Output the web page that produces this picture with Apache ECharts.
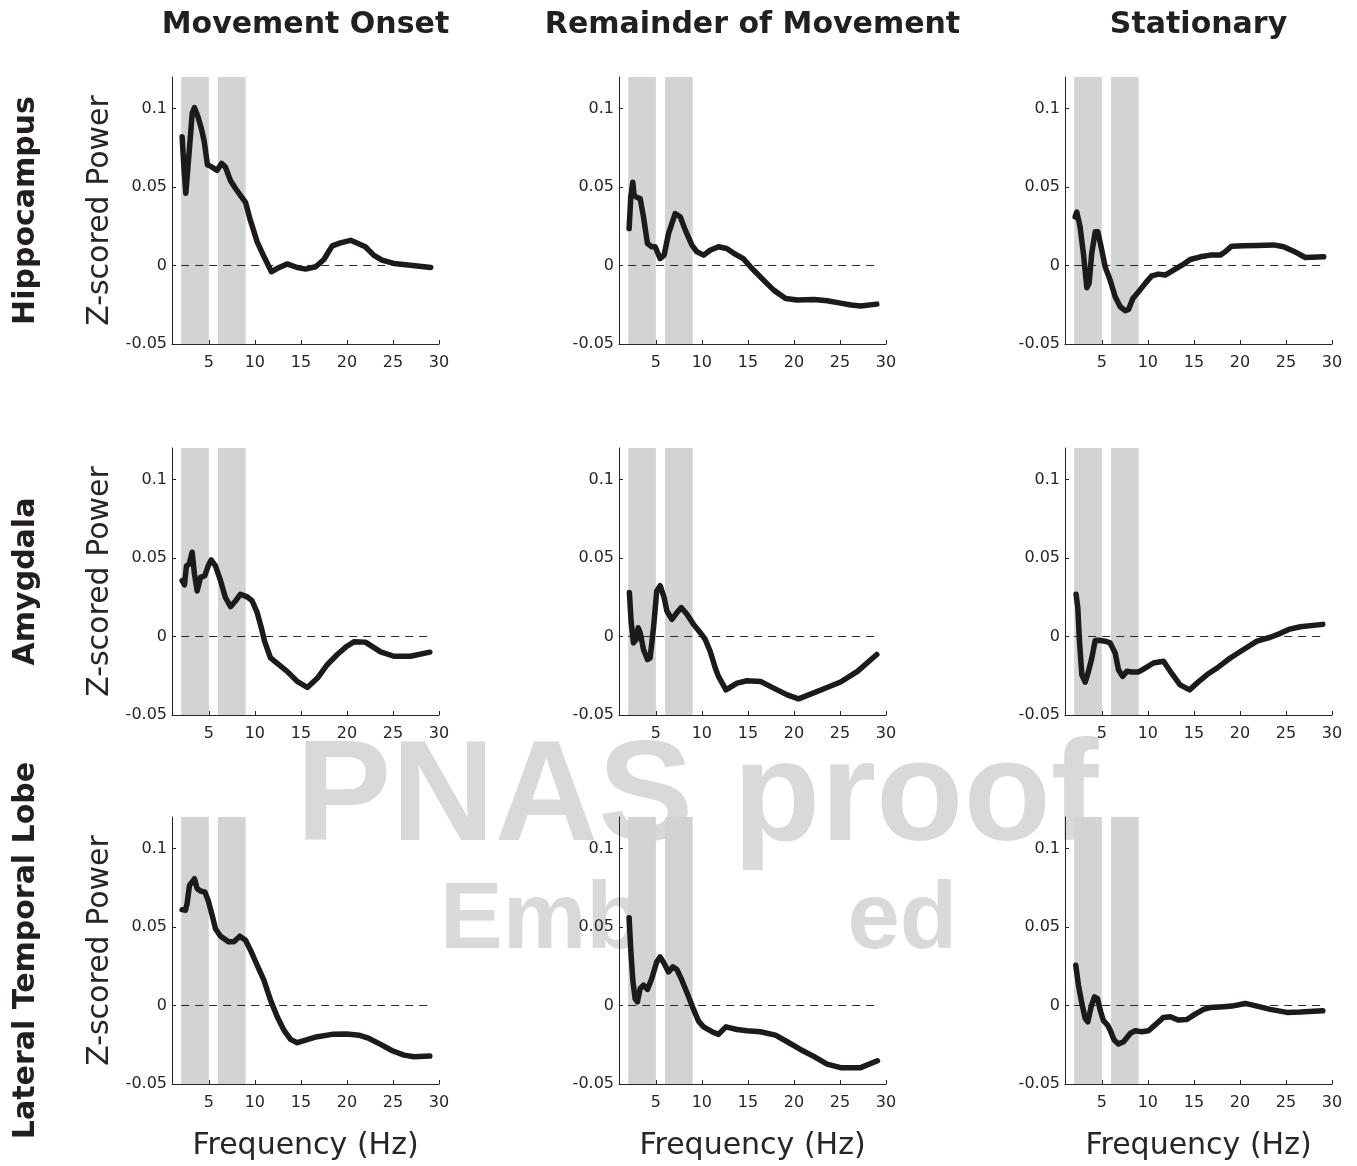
<!DOCTYPE html>
<html><head><meta charset="utf-8">
<script src="https://cdn.jsdelivr.net/npm/echarts@6/dist/echarts.min.js"></script>
<style>html,body{margin:0;padding:0;background:#fff}#c{width:1357px;height:1166px}</style>
</head><body><div id="c"></div>
<script>
const colTitles = ['Movement Onset', 'Remainder of Movement', 'Stationary'];
const rowTitles = ['Hippocampus', 'Amygdala', 'Lateral Temporal Lobe'];
const yLabel = 'Z-scored Power';
const xLabel = 'Frequency (Hz)';
const yTicks = [-0.05, 0, 0.05, 0.1];
const xTicks = [5, 10, 15, 20, 25, 30];
const bands = [[2, 5], [6, 9]];
const zeroLine = [[2, 0], [29, 0]];

const hipOnsetHz = [2.1,2.3,2.5,2.65,2.9,3.2,3.44,3.8,4.2,4.5,4.85,5.1,5.9,6.38,6.8,7.36,7.9,9.0,9.5,10.25,11,11.8,12.4,13.5,14.6,15.5,16.6,17.5,18.4,19.3,20.4,22,22.9,23.8,25.1,26.9,29.1];
const hipOnsetZ  = [0.082,0.062,0.046,0.047,0.075,0.097,0.1005,0.095,0.087,0.079,0.064,0.0635,0.0606,0.065,0.0627,0.054,0.049,0.040,0.029,0.015,0.0055,-0.004,-0.002,0.001,-0.0013,-0.0023,-0.0008,0.0038,0.0125,0.0144,0.016,0.0119,0.0066,0.0034,0.0013,0.0002,-0.0013];

const hipRemHz = [2.1,2.28,2.5,2.64,2.86,3.3,3.66,4.09,4.56,4.93,5.47,5.9,6.38,7.1,7.65,8.2,8.92,9.46,10.2,10.9,11.8,12.7,13.5,14.5,15.45,16.7,17.8,19.1,20.35,22.2,23.6,25.07,26.2,27.25,29];
const hipRemZ  = [0.0235,0.0436,0.053,0.0447,0.0436,0.0426,0.031,0.014,0.0119,0.0119,0.0044,0.0066,0.0203,0.033,0.031,0.0225,0.0129,0.0087,0.0066,0.0097,0.0119,0.0108,0.0076,0.0044,-0.0019,-0.0093,-0.0157,-0.021,-0.022,-0.0216,-0.0225,-0.024,-0.0252,-0.0258,-0.0246];

const hipStaHz = [2.1,2.28,2.64,3.0,3.37,3.62,3.9,4.28,4.57,5.0,5.36,5.9,6.45,7.0,7.54,7.9,8.37,8.99,9.71,10.43,11.16,11.88,12.79,13.7,14.6,15.7,16.78,17.86,18.4,19.1,20.4,21.85,23.66,24.75,25.83,27.1,29.1];
const hipStaZ  = [0.0309,0.034,0.0246,0.0076,-0.0142,-0.0114,0.0076,0.0214,0.0214,0.0097,-0.0008,-0.0093,-0.0199,-0.0263,-0.0288,-0.028,-0.021,-0.0167,-0.0114,-0.0066,-0.0055,-0.0061,-0.003,0.0002,0.0038,0.0055,0.0066,0.0066,0.0087,0.0123,0.0125,0.0127,0.0131,0.0119,0.0091,0.0051,0.0055];

const amyOnsetHz = [2.1,2.36,2.57,2.86,3.19,3.44,3.73,4.1,4.57,4.93,5.25,5.72,6.27,6.8,7.36,7.9,8.44,9.17,9.71,10.25,10.7,11.05,11.7,12.6,13.5,14.6,15.7,16.8,17.86,18.95,20.0,20.76,22.0,23.66,25.1,26.9,29.0];
const amyOnsetZ  = [0.0355,0.0329,0.045,0.046,0.0536,0.0397,0.029,0.0376,0.0387,0.045,0.0487,0.045,0.0355,0.0248,0.019,0.0226,0.0269,0.0252,0.0226,0.0152,0.0056,-0.003,-0.0137,-0.018,-0.0222,-0.0286,-0.0325,-0.0265,-0.018,-0.0115,-0.0062,-0.0034,-0.0036,-0.0098,-0.0126,-0.0126,-0.01];

const amyRemHz = [2.13,2.31,2.57,2.86,3.08,3.3,3.66,4.09,4.38,4.75,5.1,5.47,5.9,6.2,6.74,7.29,7.76,8.38,9.1,9.83,10.37,10.9,11.46,11.8,12.62,13.82,14.9,16.36,17.8,19.27,20.5,21.6,23.26,25.07,26.9,29.0];
const amyRemZ  = [0.028,0.0098,-0.0041,-0.0019,0.0056,0.0024,-0.0083,-0.0147,-0.0137,0.0056,0.029,0.0323,0.0248,0.0162,0.0109,0.0152,0.0184,0.0141,0.0077,0.0024,-0.0019,-0.0094,-0.0201,-0.0254,-0.034,-0.0297,-0.0282,-0.0286,-0.0329,-0.0372,-0.0397,-0.0372,-0.0333,-0.029,-0.0222,-0.0115];

const amyStaHz = [2.2,2.39,2.57,2.83,3.19,3.55,3.91,4.28,4.64,5.36,5.9,6.45,6.81,7.25,7.72,8.26,8.99,9.71,10.6,11.7,12.43,13.5,14.53,15.33,16.41,17.68,18.95,20.4,21.85,23.3,24.4,25.3,26.56,29.0];
const amyStaZ  = [0.0269,0.0184,-0.003,-0.0244,-0.0291,-0.0222,-0.0137,-0.0026,-0.0024,-0.003,-0.0041,-0.0105,-0.0212,-0.0254,-0.0222,-0.0226,-0.0226,-0.0201,-0.0169,-0.0158,-0.0222,-0.0308,-0.034,-0.0297,-0.0244,-0.0194,-0.0137,-0.0083,-0.003,-0.0005,0.002,0.0045,0.0062,0.0077];

const ltlOnsetHz = [2.1,2.46,2.64,2.9,3.19,3.44,3.73,4.1,4.57,4.93,5.36,5.72,6.27,7.17,7.72,8.37,8.99,9.53,10.25,10.98,11.7,12.43,13.15,13.88,14.6,15.5,16.78,18.4,20.0,21.3,22.4,23.66,24.93,26.2,27.28,29.0];
const ltlOnsetZ  = [0.061,0.0606,0.0648,0.0765,0.0786,0.0807,0.0744,0.0729,0.0722,0.0669,0.0574,0.0489,0.0441,0.0405,0.0405,0.0441,0.0415,0.0352,0.0256,0.0161,0.0034,-0.0072,-0.0157,-0.0216,-0.0237,-0.022,-0.0199,-0.0184,-0.0182,-0.0189,-0.021,-0.0248,-0.0288,-0.0316,-0.0326,-0.0322];

const ltlRemHz = [2.1,2.28,2.5,2.75,3.0,3.3,3.66,4.09,4.56,5.1,5.47,5.9,6.38,6.85,7.29,7.83,8.56,9.1,9.64,10.18,11.1,11.8,12.62,13.82,14.9,16.36,17.99,19.27,20.7,22.2,23.6,25.07,26.2,27.25,29.07];
const ltlRemZ  = [0.0559,0.0352,0.0161,0.0044,0.0023,0.0108,0.0129,0.0102,0.0172,0.0278,0.0309,0.0267,0.0214,0.0246,0.0229,0.0161,0.0055,-0.0025,-0.01,-0.0136,-0.0167,-0.0184,-0.0136,-0.0153,-0.0161,-0.0167,-0.0189,-0.0231,-0.028,-0.0326,-0.0373,-0.0396,-0.0396,-0.0396,-0.0352];

const ltlStaHz = [2.17,2.46,2.83,3.19,3.48,3.84,4.2,4.53,4.82,5.18,5.62,5.9,6.34,6.81,7.36,8.08,8.62,9.35,10.07,10.98,11.7,12.43,13.33,14.24,15.14,16.05,16.78,18.22,19.13,20.58,21.85,23.3,25.1,26.56,29.0];
const ltlStaZ  = [0.0256,0.0129,0.0013,-0.0083,-0.0104,-0.0008,0.0055,0.0044,-0.003,-0.0097,-0.0125,-0.0157,-0.022,-0.0246,-0.0231,-0.0178,-0.0161,-0.0167,-0.0161,-0.0114,-0.0076,-0.0072,-0.0093,-0.0089,-0.0055,-0.0025,-0.0013,-0.0008,-0.0004,0.0013,-0.0004,-0.0025,-0.0044,-0.0042,-0.0034];

const panels = [
  [hipOnsetHz, hipOnsetZ], [hipRemHz, hipRemZ], [hipStaHz, hipStaZ],
  [amyOnsetHz, amyOnsetZ], [amyRemHz, amyRemZ], [amyStaHz, amyStaZ],
  [ltlOnsetHz, ltlOnsetZ], [ltlRemHz, ltlRemZ], [ltlStaHz, ltlStaZ]
];

const colLeft = [172, 619, 1065];
const rowTop = [77, 448, 817];
const W = 267, H = 267;
const AX = '#262626';
const FONT = 'DejaVu Sans';

const grids = [], xAxes = [], yAxes = [], series = [];
panels.forEach((p, i) => {
  const r = Math.floor(i / 3), c = i % 3;
  grids.push({left: colLeft[c], top: rowTop[r], width: W, height: H, containLabel: false});
  xAxes.push({
    gridIndex: i, type: 'value', min: 1, max: 30, z: 5,
    axisLine: {show: true, onZero: false, lineStyle: {color: AX, width: 1}},
    axisTick: {show: true, inside: true, length: 4, customValues: xTicks, lineStyle: {color: AX}},
    axisLabel: {customValues: xTicks, fontSize: 16, fontFamily: FONT, color: AX, margin: 11},
    splitLine: {show: false}
  });
  yAxes.push({
    gridIndex: i, type: 'value', min: -0.05, max: 0.12, z: 5,
    axisLine: {show: true, onZero: false, lineStyle: {color: AX, width: 1}},
    axisTick: {show: true, inside: true, length: 4, customValues: yTicks, lineStyle: {color: AX}},
    axisLabel: {customValues: yTicks, fontSize: 16, fontFamily: FONT, color: AX, margin: 5},
    splitLine: {show: false}
  });
  series.push({
    type: 'line', xAxisIndex: i, yAxisIndex: i, data: [], z: 2, silent: true,
    markArea: {silent: true, itemStyle: {color: '#d1d3d4'},
      data: bands.map(b => [{xAxis: b[0]}, {xAxis: b[1]}])}
  });
  series.push({
    type: 'line', xAxisIndex: i, yAxisIndex: i, data: zeroLine, z: 3, silent: true,
    symbol: 'none', lineStyle: {color: AX, width: 1, type: [8, 6]}
  });
  series.push({
    type: 'line', xAxisIndex: i, yAxisIndex: i, z: 4, silent: true,
    data: p[0].map((x, k) => [x, p[1][k]]),
    symbol: 'none', lineStyle: {color: '#1c1a1b', width: 5.5, join: 'round', cap: 'round'}
  });
});

const graphic = [];
// watermark
graphic.push({type: 'text', z: 0, silent: true, x: 296, y: 872,
  style: {text: 'PNAS proof', fill: '#d8d9da', font: 'bold 143px "Liberation Sans"', textAlign: 'left', textVerticalAlign: 'bottom'}});
graphic.push({type: 'text', z: 0, silent: true, x: 440, y: 969,
  style: {text: 'Embargoed', fill: '#d8d9da', font: 'bold 94px "Liberation Sans"', textAlign: 'left', textVerticalAlign: 'bottom'}});
graphic.push({type: 'rect', z: 1, silent: true, shape: {x: 645, y: 872, width: 203, height: 120}, style: {fill: '#ffffff'}});

colTitles.forEach((t, c) => graphic.push({type: 'text', z: 10, x: colLeft[c] + W / 2, y: 25,
  style: {text: t, fill: '#231f20', font: 'bold 30px "DejaVu Sans"', textAlign: 'center', textVerticalAlign: 'middle'}}));
rowTitles.forEach((t, r) => graphic.push({type: 'text', z: 10, x: 26, y: rowTop[r] + H / 2, rotation: Math.PI / 2,
  style: {text: t, fill: '#231f20', font: 'bold 30px "DejaVu Sans"', textAlign: 'center', textVerticalAlign: 'middle'}}));
rowTop.forEach((top, r) => graphic.push({type: 'text', z: 10, x: 100, y: top + H / 2, rotation: Math.PI / 2,
  style: {text: yLabel, fill: AX, font: '30px "DejaVu Sans"', textAlign: 'center', textVerticalAlign: 'middle'}}));
colLeft.forEach((left, c) => graphic.push({type: 'text', z: 10, x: left + W / 2, y: 1146,
  style: {text: xLabel, fill: AX, font: '30px "DejaVu Sans"', textAlign: 'center', textVerticalAlign: 'middle'}}));

const chart = echarts.init(document.getElementById('c'), null, {renderer: 'canvas'});
chart.setOption({
  backgroundColor: '#ffffff',
  animation: false,
  grid: grids, xAxis: xAxes, yAxis: yAxes, series: series, graphic: graphic
});
</script></body></html>
